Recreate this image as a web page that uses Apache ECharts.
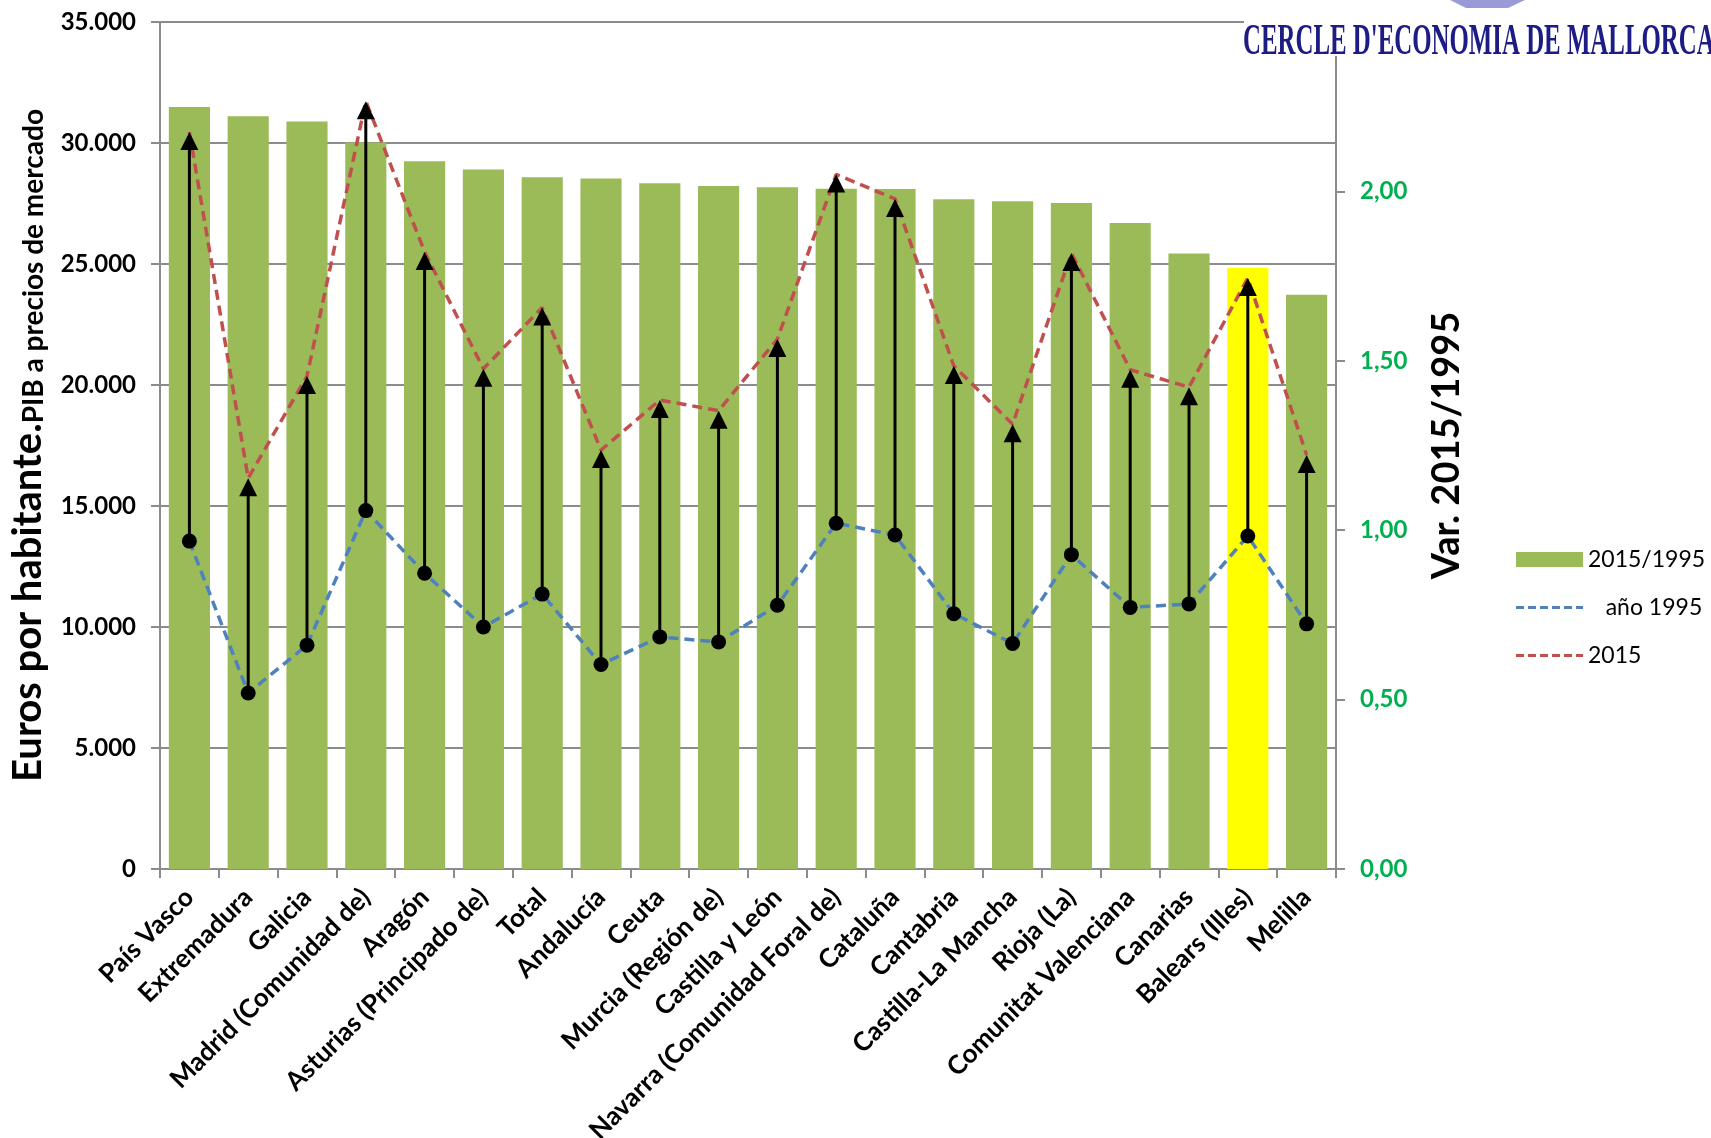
<!DOCTYPE html>
<html>
<head>
<meta charset="utf-8">
<title>PIB por habitante 1995-2015</title>
<script src="https://cdn.jsdelivr.net/npm/echarts@6/dist/echarts.min.js"></script>
<style>
  html, body { margin: 0; padding: 0; background: #fff; }
  #chart { width: 1711px; height: 1138px; }
</style>
</head>
<body>
<div id="chart"></div>
<script>
  // comunidades, ordenadas por la variacion 2015/1995
  var regiones = ['País Vasco', 'Extremadura', 'Galicia', 'Madrid (Comunidad de)', 'Aragón',
    'Asturias (Principado de)', 'Total', 'Andalucía', 'Ceuta', 'Murcia (Región de)',
    'Castilla y León', 'Navarra (Comunidad Foral de)', 'Cataluña', 'Cantabria',
    'Castilla-La Mancha', 'Rioja (La)', 'Comunitat Valenciana', 'Canarias', 'Balears (Illes)', 'Melilla']
  // variacion 2015/1995 (eje derecho)
  var variacion = [2.249, 2.222, 2.206, 2.144, 2.089, 2.065, 2.042, 2.038, 2.024, 2.016,
    2.012, 2.008, 2.007, 1.977, 1.971, 1.966, 1.907, 1.817, 1.775, 1.695]
  // euros por habitante
  var pib1995 = [13550, 7270, 9250, 14810, 12220, 10000, 11360, 8450, 9590, 9380,
    10900, 14290, 13800, 10550, 9320, 12990, 10810, 10950, 13760, 10130]
  var pib2015 = [30450, 16150, 20370, 31730, 25500, 20670, 23200, 17310, 19380, 18940,
    21900, 28700, 27690, 20790, 18380, 25450, 20630, 19910, 24420, 17110]
  var destacado = 'Balears (Illes)'
  var ejeEuros = { min: 0, max: 35000, interval: 5000 }
  var ejeVar = { min: 0, max: 2.5, interval: 0.5 }

  var font = 'Lato'
  var gris = '#8c8c8c'
  var dash = 'path://M0,0h8v3h-8zM12,0h8v3h-8zM24,0h8v3h-8zM36,0h8v3h-8zM48,0h8v3h-8zM60,0h7v3h-7z'

  var myChart = echarts.init(document.getElementById('chart'))

  var barras = []
  for (var i = 0; i < regiones.length; i++) {
    var item = { value: variacion[i] }
    if (regiones[i] === destacado) item.itemStyle = { color: '#ffff00' }
    barras.push(item)
  }
  var flechas = []
  for (var j = 0; j < regiones.length; j++) {
    flechas.push([j, pib1995[j], pib2015[j]])
  }

  var option = {
    backgroundColor: '#fff',
    animation: false,
    textStyle: { fontFamily: font },
    grid: { left: 160, right: 375, top: 22, bottom: 269, outerBoundsMode: 'none', containLabel: false },
    legend: {
      orient: 'vertical',
      left: 1511,
      top: 543,
      itemWidth: 67,
      itemHeight: 15,
      itemGap: 25,
      selectedMode: false,
      textStyle: { fontFamily: font, fontSize: 23, color: '#000' },
      formatter: function (name) {
        return name === 'año 1995' ? '   ' + name : name
      },
      data: [
        { name: '2015/1995', icon: 'rect' },
        { name: 'año 1995', icon: dash },
        { name: '2015', icon: dash }
      ]
    },
    xAxis: {
      type: 'category',
      data: regiones,
      axisLine: { lineStyle: { color: gris, width: 2 } },
      axisTick: { show: true, length: 9, lineStyle: { color: gris, width: 2 } },
      axisLabel: {
        interval: 0,
        rotate: 45,
        margin: 24,
        color: '#000',
        fontFamily: font,
        fontWeight: 'bold',
        fontSize: 26
      }
    },
    yAxis: [
      {
        type: 'value',
        min: ejeEuros.min,
        max: ejeEuros.max,
        interval: ejeEuros.interval,
        name: '{a|Euros por habitante.}{b|PIB a precios de mercado}',
        nameLocation: 'middle',
        nameRotate: 90,
        nameGap: 112,
        nameTextStyle: {
          rich: {
            a: { fontFamily: font, fontWeight: 'bold', fontSize: 40, color: '#000', verticalAlign: 'bottom' },
            b: { fontFamily: font, fontWeight: 'bold', fontSize: 28, color: '#000', verticalAlign: 'bottom' }
          }
        },
        axisLine: { show: true, lineStyle: { color: gris, width: 2 } },
        axisTick: { show: true, length: 9, lineStyle: { color: gris, width: 2 } },
        splitLine: { show: true, lineStyle: { color: gris, width: 2 } },
        axisLabel: {
          margin: 24,
          color: '#000',
          fontFamily: font,
          fontWeight: 'bold',
          fontSize: 24,
          formatter: function (v) {
            return String(v).replace(/\B(?=(\d{3})+(?!\d))/g, '.')
          }
        }
      },
      {
        type: 'value',
        position: 'right',
        min: ejeVar.min,
        max: ejeVar.max,
        interval: ejeVar.interval,
        name: 'Var. 2015/1995',
        nameLocation: 'middle',
        nameRotate: 90,
        nameGap: 92,
        nameTextStyle: { fontFamily: font, fontWeight: 'bold', fontSize: 38, color: '#000' },
        axisLine: { show: true, lineStyle: { color: gris, width: 2 } },
        axisTick: { show: true, length: 9, lineStyle: { color: gris, width: 2 } },
        splitLine: { show: false },
        axisLabel: {
          margin: 24,
          showMaxLabel: false,
          color: '#00b050',
          fontFamily: font,
          fontWeight: 'bold',
          fontSize: 24,
          formatter: function (v) {
            return v.toFixed(2).replace('.', ',')
          }
        }
      }
    ],
    series: [
      {
        name: '2015/1995',
        type: 'bar',
        yAxisIndex: 1,
        barCategoryGap: '30%',
        itemStyle: { color: '#9bbb59' },
        data: barras,
        z: 1
      },
      {
        name: 'año 1995',
        type: 'line',
        yAxisIndex: 0,
        symbol: 'none',
        itemStyle: { color: '#4f81bd' },
        lineStyle: { color: '#4f81bd', width: 3.5, type: [10, 6] },
        data: pib1995,
        z: 3
      },
      {
        name: '2015',
        type: 'line',
        yAxisIndex: 0,
        symbol: 'none',
        itemStyle: { color: '#c0504d' },
        lineStyle: { color: '#c0504d', width: 3.5, type: [10, 6] },
        data: pib2015,
        z: 3
      },
      {
        // flechas de 1995 a 2015
        name: 'flechas',
        type: 'custom',
        yAxisIndex: 0,
        encode: { x: 0, y: [1, 2] },
        z: 5,
        renderItem: function (params, api) {
          var base = api.coord([api.value(0), api.value(1)])
          var tip = api.coord([api.value(0), api.value(2)])
          var h = 18
          var w = 9
          return {
            type: 'group',
            children: [
              {
                type: 'line',
                shape: { x1: base[0], y1: base[1], x2: tip[0], y2: tip[1] + h - 2 },
                style: { stroke: '#000', lineWidth: 3 }
              },
              {
                type: 'polygon',
                shape: { points: [[tip[0], tip[1]], [tip[0] - w, tip[1] + h], [tip[0] + w, tip[1] + h]] },
                style: { fill: '#000' }
              },
              {
                type: 'circle',
                shape: { cx: base[0], cy: base[1], r: 7.5 },
                style: { fill: '#000' }
              }
            ]
          }
        },
        data: flechas
      }
    ],
    graphic: [
      {
        type: 'rect',
        z: 100,
        shape: { x: 1244, y: 0, width: 467, height: 56 },
        style: { fill: '#fff' }
      },
      {
        type: 'polygon',
        z: 101,
        shape: { points: [[1450, 0], [1525, 0], [1508, 8], [1466, 8]] },
        style: { fill: '#9a9ad8' }
      },
      {
        type: 'text',
        z: 101,
        x: 1243,
        y: 43,
        scaleX: 0.565,
        style: {
          text: "CERCLE D'ECONOMIA DE MALLORCA",
          font: 'bold 44px "Liberation Serif"',
          fill: '#1c1c84',
          verticalAlign: 'middle'
        }
      }
    ]
  }

  myChart.setOption(option)
</script>
</body>
</html>
